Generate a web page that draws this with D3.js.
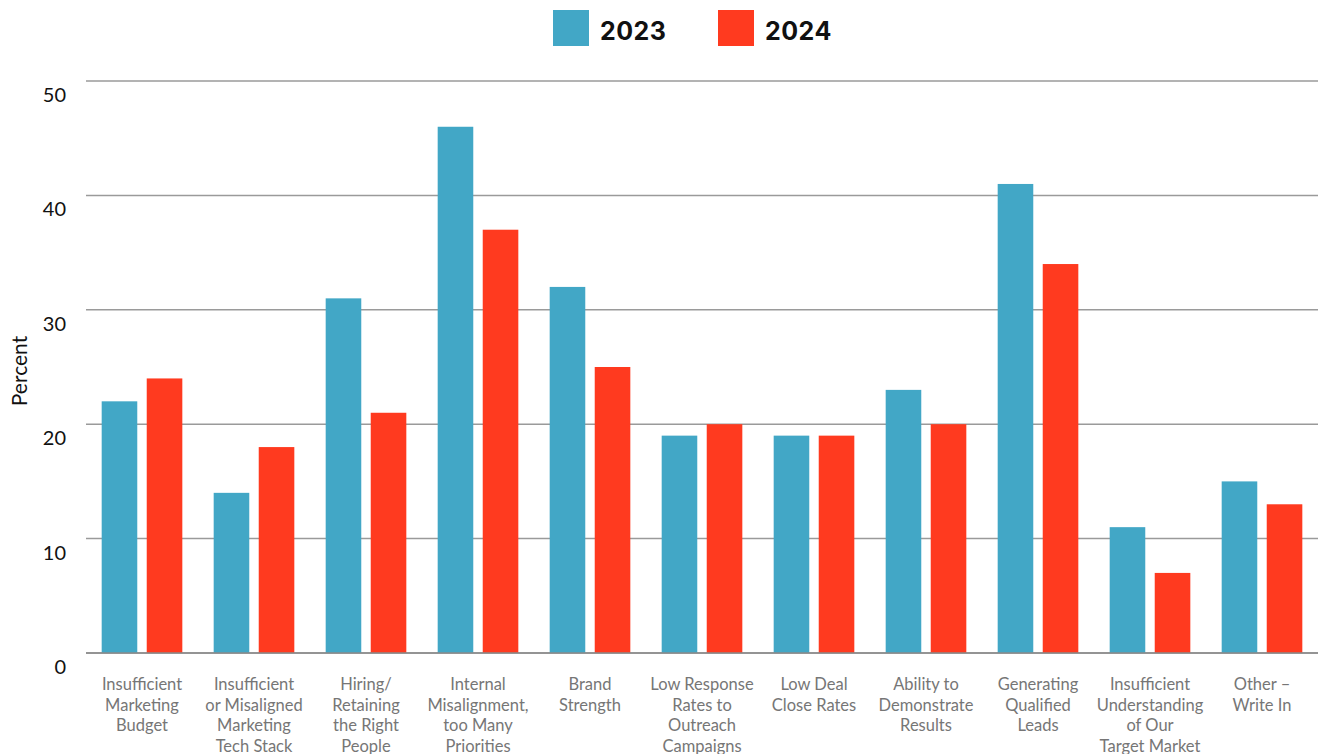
<!DOCTYPE html>
<html><head><meta charset="utf-8">
<script src="https://cdn.jsdelivr.net/npm/d3@7"></script>
<style>
html,body{margin:0;padding:0;background:#fff;}
svg{display:block;}
</style></head>
<body>
<svg id="chart" width="1325" height="754"></svg>
<script>
const categories = [
  "Insufficient\nMarketing\nBudget",
  "Insufficient\nor Misaligned\nMarketing\nTech Stack",
  "Hiring/\nRetaining\nthe Right\nPeople",
  "Internal\nMisalignment,\ntoo Many\nPriorities",
  "Brand\nStrength",
  "Low Response\nRates to\nOutreach\nCampaigns",
  "Low Deal\nClose Rates",
  "Ability to\nDemonstrate\nResults",
  "Generating\nQualified\nLeads",
  "Insufficient\nUnderstanding\nof Our\nTarget Market",
  "Other –\nWrite In"
];
const seriesNames = ["2023", "2024"];
const values2023 = [22, 14, 31, 46, 32, 19, 19, 23, 41, 11, 15];
const values2024 = [24, 18, 21, 37, 25, 20, 19, 20, 34, 7, 13];
const yTicks = [0, 10, 20, 30, 40, 50];
const colors = ["#42a7c6", "#ff3a1f"];

const svg = d3.select("#chart");
const mLeft = 86, mRight = 1318, mTop = 81, mBottom = 653;

const x0 = d3.scaleBand().domain(d3.range(categories.length)).range([mLeft, mRight])
  .paddingInner(0.28).paddingOuter(0.14);
const x1 = d3.scaleBand().domain(seriesNames).range([0, x0.bandwidth()])
  .paddingInner(0.21).paddingOuter(0);
const y = d3.scaleLinear().domain([0, 50]).range([mBottom, mTop]);

// gridlines
svg.append("g").selectAll("line").data(yTicks).join("line")
  .attr("x1", mLeft).attr("x2", mRight)
  .attr("y1", d => y(d)).attr("y2", d => y(d))
  .attr("stroke", "#9a9a9a").attr("stroke-width", 1.5);

// y tick labels
svg.append("g").selectAll("text").data(yTicks).join("text")
  .attr("x", 66).attr("y", d => y(d) + 21)
  .attr("text-anchor", "end")
  .attr("font-family", "Lato, sans-serif").attr("font-size", 20)
  .attr("fill", "#111").text(d => d);

// y title
svg.append("text")
  .attr("transform", "translate(27,371) rotate(-90)")
  .attr("text-anchor", "middle")
  .attr("font-family", "Lato, sans-serif").attr("font-size", 21)
  .attr("fill", "#111").text("Percent");

// bars
const data = categories.map((c, i) => ({i, vals: [values2023[i], values2024[i]]}));
const groups = svg.append("g").selectAll("g").data(data).join("g")
  .attr("transform", d => `translate(${x0(d.i)},0)`);
groups.selectAll("rect").data(d => d.vals.map((v, k) => ({k, v}))).join("rect")
  .attr("x", d => x1(seriesNames[d.k]))
  .attr("width", x1.bandwidth())
  .attr("y", d => y(d.v))
  .attr("height", d => y(0) - y(d.v))
  .attr("fill", d => colors[d.k]);

// baseline redraw on top
svg.append("line").attr("x1", mLeft).attr("x2", mRight)
  .attr("y1", y(0)).attr("y2", y(0)).attr("stroke", "#8a8a8a").attr("stroke-width", 1.5);

// category labels
const lab = svg.append("g").selectAll("text").data(categories).join("text")
  .attr("text-anchor", "middle")
  .attr("font-family", "Lato, sans-serif").attr("font-size", 16.5)
  .attr("fill", "#767676")
  .attr("transform", (d, i) => `translate(${x0(i) + x0.bandwidth() / 2},690)`);
lab.selectAll("tspan").data(d => d.split("\n")).join("tspan")
  .attr("x", 0).attr("y", (d, j) => j * 20.5).text(d => d);

// legend
const legX = [553, 718];
const leg = svg.append("g").selectAll("g").data(seriesNames).join("g")
  .attr("transform", (d, i) => `translate(${legX[i]},10)`);
leg.append("rect").attr("width", 36).attr("height", 36).attr("fill", (d, i) => colors[i]);
leg.append("text").attr("x", 47).attr("y", 30)
  .attr("font-family", "Inter, sans-serif").attr("font-weight", 700).attr("font-size", 25)
  .attr("letter-spacing", 0.5).attr("fill", "#111").text(d => d);
</script>
</body></html>
